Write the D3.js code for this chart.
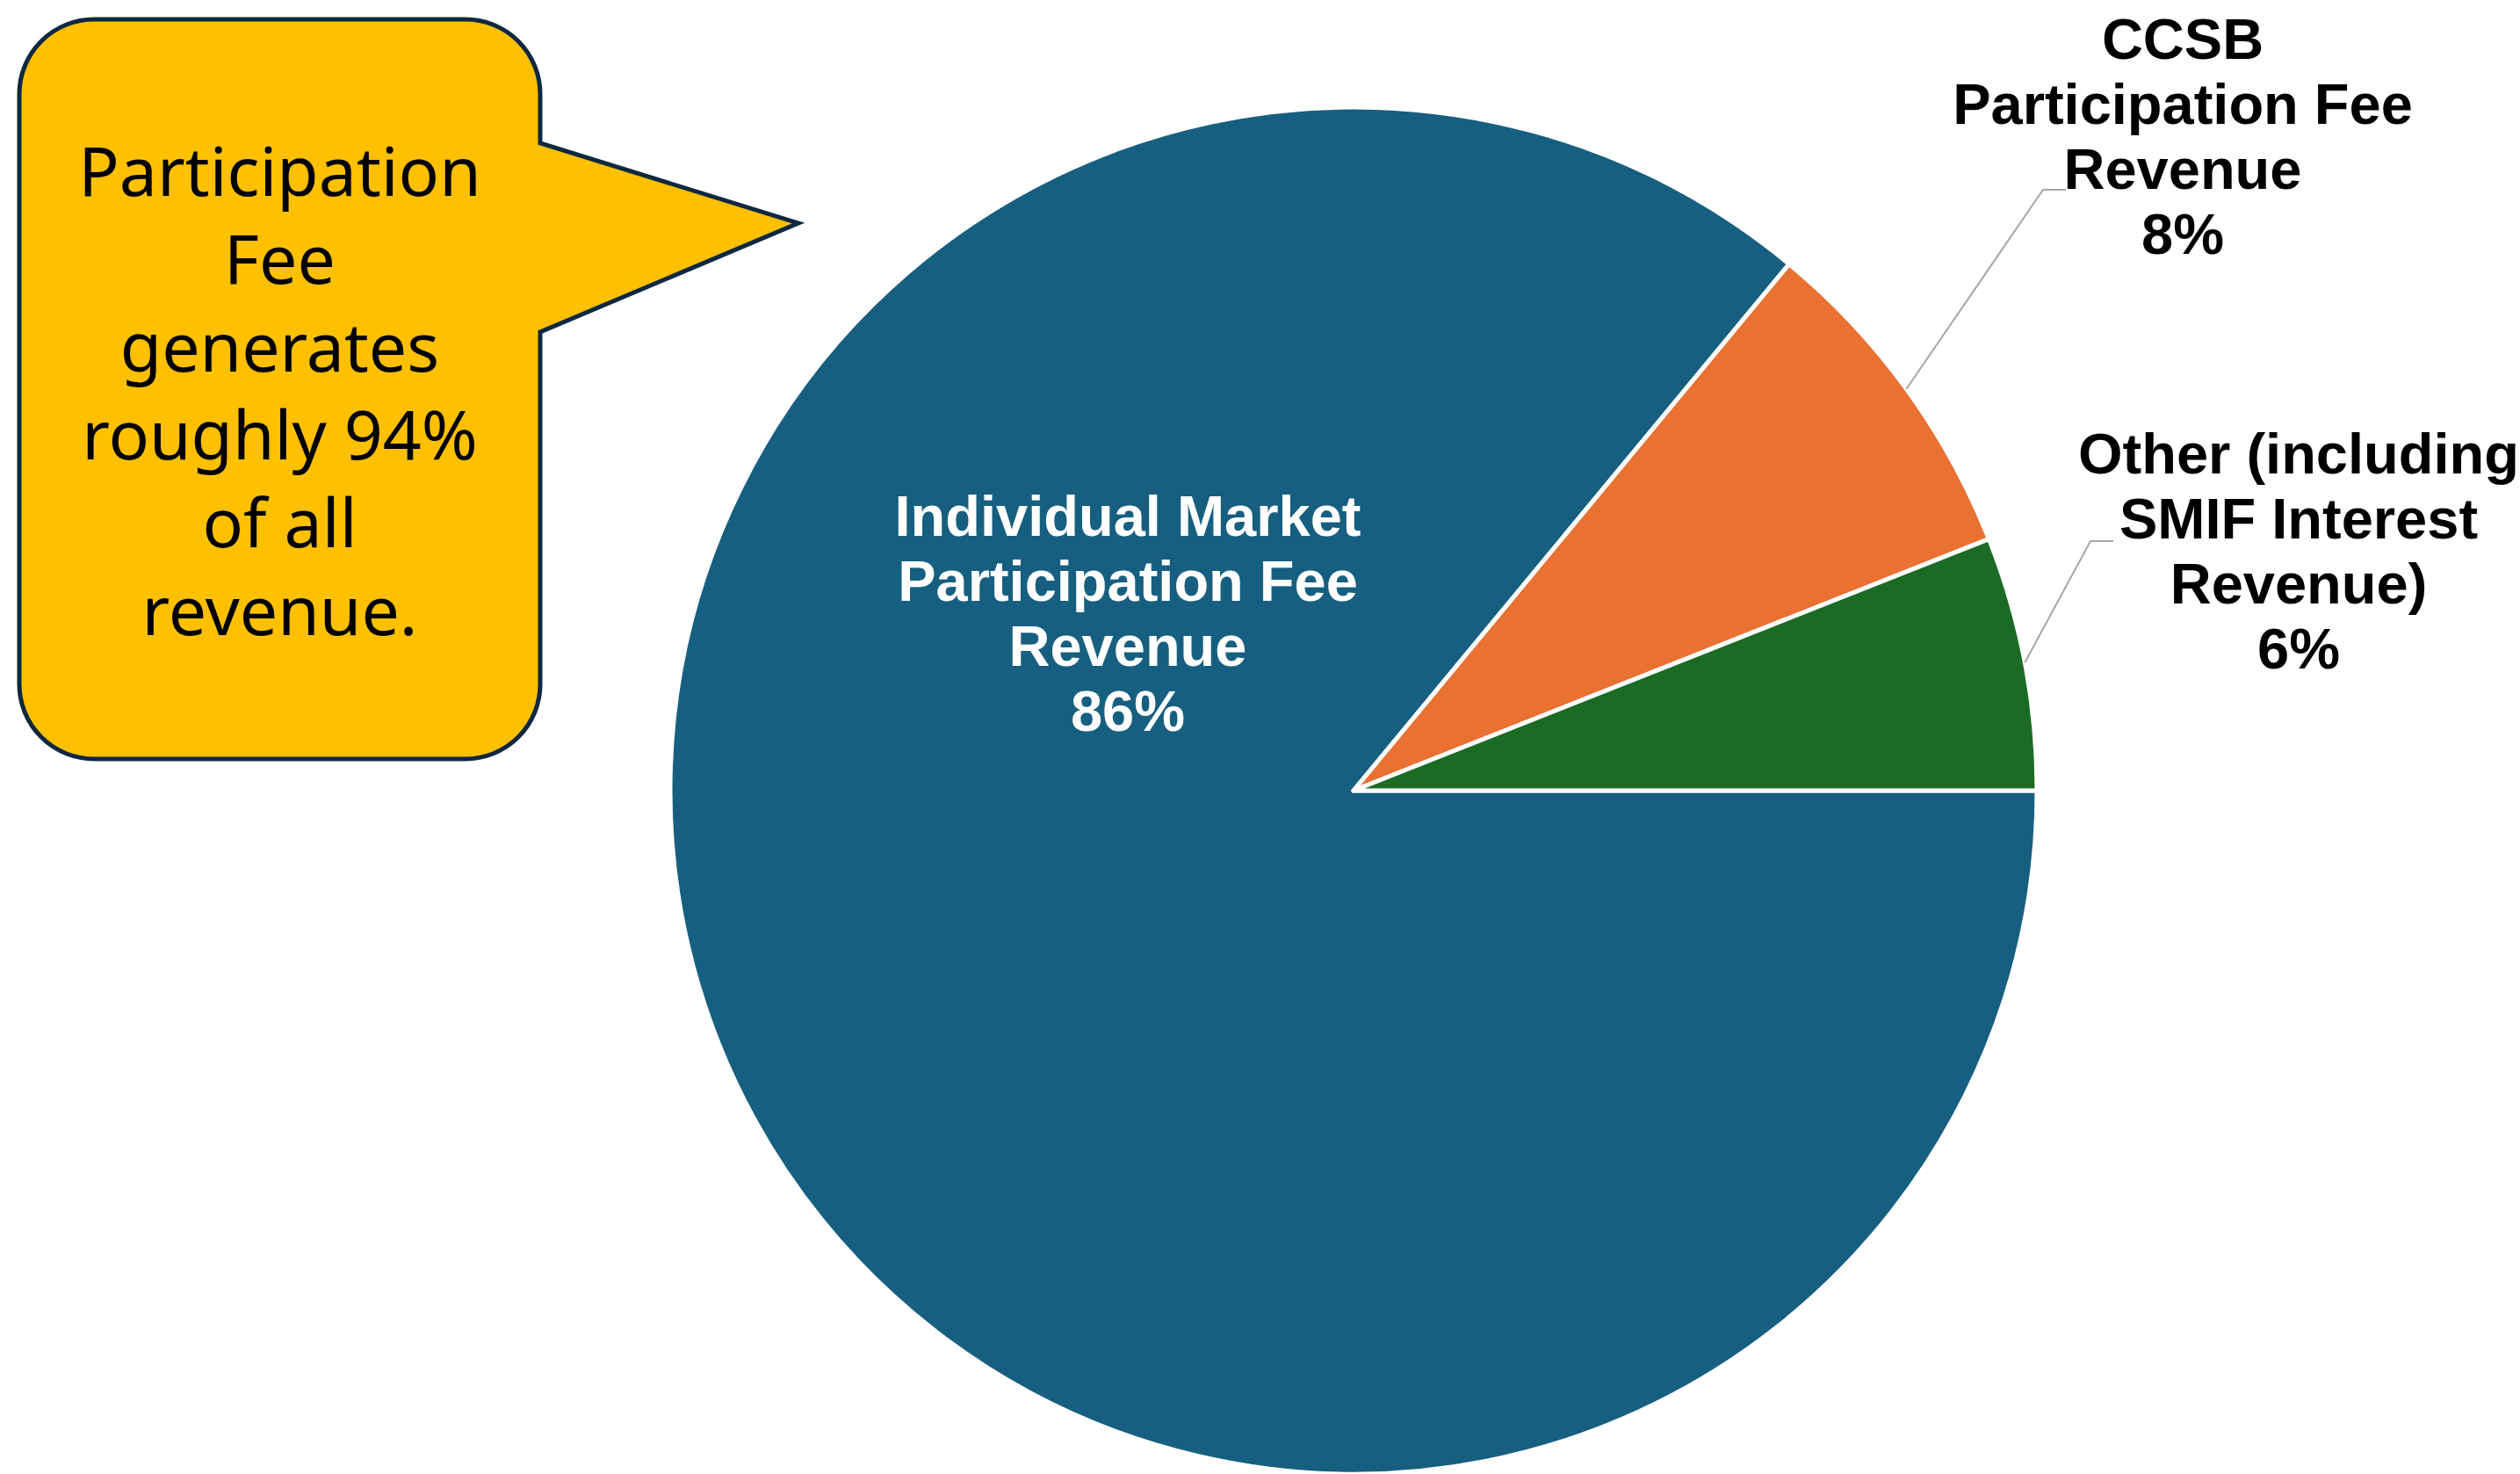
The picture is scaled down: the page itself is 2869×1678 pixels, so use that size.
<!DOCTYPE html>
<html>
<head>
<meta charset="utf-8">
<script src="https://cdn.jsdelivr.net/npm/d3@7"></script>
<style>
  html, body { margin: 0; padding: 0; background: #fff; }
  svg { display: block; }
</style>
</head>
<body>
<div id="chart"></div>
<script>
// data
var categories = ["Individual Market Participation Fee Revenue", "CCSB Participation Fee Revenue", "Other (including SMIF Interest Revenue)"];
var values = [86, 8, 6];
var labelLines = [
  ["Individual Market", "Participation Fee", "Revenue"],
  ["CCSB", "Participation Fee", "Revenue"],
  ["Other (including", "SMIF Interest", "Revenue)"]
];
var calloutLines = ["Participation", "Fee", "generates", "roughly 94%", "of all", "revenue."];

// chart dimensions
var width = 2869;
var height = 1678;
var cx = 1541, cy = 900;
var radius = 778;

var colors = ["#175F80", "#E97132", "#1B6B24"];

// where Excel put each data label (center x, first line center y), and leader elbows
var labelPos = [
  {x: 1284, y: 587, leader: false},
  {x: 2485, y: 44, leader: true, elbow: [2326, 216], end: [2352, 216]},
  {x: 2617, y: 516, leader: true, elbow: [2380, 616], end: [2406, 616]}
];
var lineStep = 74;

var dataset = categories.map(function(c, i) {
  return {label: c, value: values[i], lines: labelLines[i]};
});

var svg = d3.select('#chart')
  .append('svg')
  .attr('width', width)
  .attr('height', height);

svg.append('rect').attr('width', width).attr('height', height).attr('fill', '#fff');

var pie = d3.pie()
  .value(function(d) { return d.value; })
  .sort(null)
  .startAngle(Math.PI / 2)
  .endAngle(Math.PI / 2 + 2 * Math.PI);

var arc = d3.arc().innerRadius(0).outerRadius(radius);
var edgeArc = d3.arc().innerRadius(radius).outerRadius(radius);

var g = svg.append('g').attr('transform', 'translate(' + cx + ',' + cy + ')');

var arcs = pie(dataset);
var total = d3.sum(values);

g.selectAll('path.slice')
  .data(arcs)
  .enter()
  .append('path')
  .attr('class', 'slice')
  .attr('d', arc)
  .attr('fill', function(d, i) { return colors[i]; })
  .attr('stroke', '#fff')
  .attr('stroke-width', 5)
  .attr('stroke-linejoin', 'round');

// leader lines
arcs.forEach(function(d, i) {
  var p = labelPos[i];
  if (!p.leader) return;
  var s = edgeArc.centroid(d);
  svg.append('polyline')
    .attr('points', [[cx + s[0], cy + s[1]], p.elbow, p.end].map(function(q) { return q.join(','); }).join(' '))
    .attr('fill', 'none')
    .attr('stroke', '#A6A6A6')
    .attr('stroke-width', 2);
});

// data labels
arcs.forEach(function(d, i) {
  var p = labelPos[i];
  var pct = Math.round(d.data.value / total * 100) + '%';
  var lines = d.data.lines.concat([pct]);
  var t = svg.append('text')
    .attr('text-anchor', 'middle')
    .attr('font-family', '"Liberation Sans", Arial, sans-serif')
    .attr('font-weight', 'bold')
    .attr('font-size', 65)
    .attr('fill', i === 0 ? '#fff' : '#000');
  lines.forEach(function(l, j) {
    t.append('tspan')
      .attr('x', p.x)
      .attr('y', p.y + j * lineStep + 23)
      .text(l);
  });
});

// callout box with pointer
var bx0 = 22, by0 = 22, bx1 = 615, by1 = 864, br = 85;
var py0 = 163, py1 = 378, tip = [909, 254];
var path = d3.path();
path.moveTo(bx0 + br, by0);
path.lineTo(bx1 - br, by0);
path.arcTo(bx1, by0, bx1, by0 + br, br);
path.lineTo(bx1, py0);
path.lineTo(tip[0], tip[1]);
path.lineTo(bx1, py1);
path.lineTo(bx1, by1 - br);
path.arcTo(bx1, by1, bx1 - br, by1, br);
path.lineTo(bx0 + br, by1);
path.arcTo(bx0, by1, bx0, by1 - br, br);
path.lineTo(bx0, by0 + br);
path.arcTo(bx0, by0, bx0 + br, by0, br);
path.closePath();

svg.append('path')
  .attr('d', path.toString())
  .attr('fill', '#FFC000')
  .attr('stroke', '#0E2841')
  .attr('stroke-width', 5)
  .attr('stroke-linejoin', 'miter');

var ct = svg.append('text')
  .attr('text-anchor', 'middle')
  .attr('font-family', '"Noto Sans", "Open Sans", sans-serif')
  .attr('font-size', 77)
  .attr('fill', '#000');
calloutLines.forEach(function(l, j) {
  ct.append('tspan')
    .attr('x', (bx0 + bx1) / 2)
    .attr('y', 196 + j * 100 + 27)
    .text(l);
});
</script>
</body>
</html>
